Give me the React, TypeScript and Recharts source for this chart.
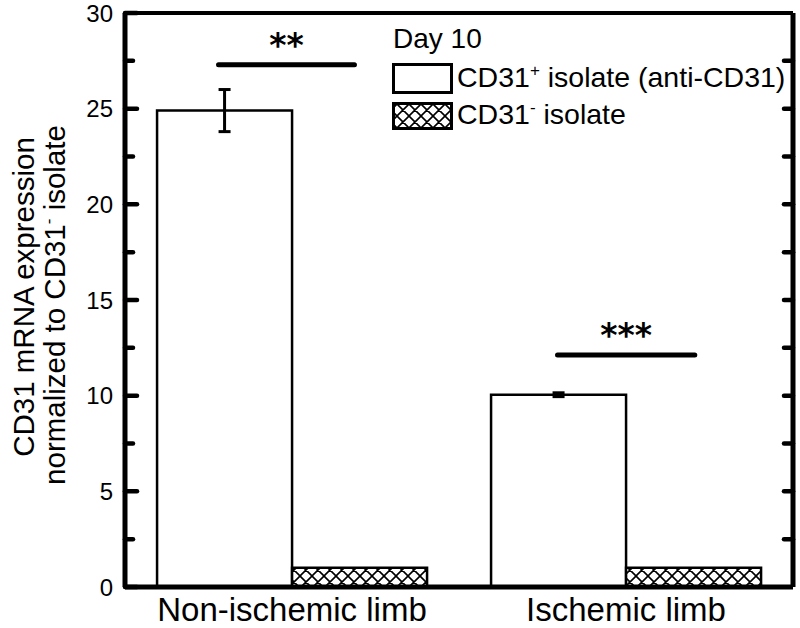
import React from 'react';
import { BarChart, Bar, XAxis, YAxis, ErrorBar, ReferenceLine, Legend } from 'recharts';

const categories = ['Non-ischemic limb', 'Ischemic limb'];
const cd31PosValues = [24.9, 10.05];
const cd31PosErrors = [1.1, 0.1];
const cd31NegValues = [1.0, 1.0];
const yTicks = [0, 2.5, 5, 7.5, 10, 12.5, 15, 17.5, 20, 22.5, 25, 27.5, 30];
const sigLabels = ['**', '***'];
const sigY = [27.3, 12.13];
// significance bar ends, as a fraction of the plot width
const sigXStart = [0.14, 0.6475];
const sigXEnd = [0.3435, 0.853];
const legendTitle = 'Day 10';
const seriesMain = ['CD31', 'CD31'];
const seriesSup = ['+', '-'];
const seriesRest = [' isolate (anti-CD31)', ' isolate'];

const data = categories.map((name, i) => ({
  name,
  pos: cd31PosValues[i],
  posErr: cd31PosErrors[i],
  neg: cd31NegValues[i],
}));

const FONT = '"Liberation Sans", Arial, sans-serif';
const CHART_W = 800;
const MARGIN_RIGHT = 6;
const RIGHT_AXIS_W = 1;
const PLOT_RIGHT = CHART_W - MARGIN_RIGHT - RIGHT_AXIS_W;

function LeftTick(props: any) {
  const { x, y, payload } = props;
  const v = payload.value;
  const major = v % 5 === 0;
  return (
    <g>
      <line x1={x} x2={x + (major ? 12 : 8)} y1={y} y2={y} stroke="#000" strokeWidth={4.5} strokeLinecap="round" />
      {v > 0 && v < 30 && (
        <line x1={PLOT_RIGHT - 9} x2={PLOT_RIGHT} y1={y} y2={y} stroke="#000" strokeWidth={4.5} strokeLinecap="round" />
      )}
      {major && (
        <text x={x - 12} y={y} dy="0.36em" textAnchor="end" fontSize={24} fill="#000" fontFamily={FONT}>
          {v}
        </text>
      )}
    </g>
  );
}

const YLabel = (props: any) => {
  const vb = props.viewBox;
  const cy = vb && typeof vb.y === 'number' ? vb.y + vb.height / 2 : 300;
  const y1 = cy - 3;
  const y2 = cy + 5;
  return (
    <g fontFamily={FONT} fontSize={29.5} fill="#000">
      <text x={34} y={y1} transform={`rotate(-90, 34, ${y1})`} textAnchor="middle">
        CD31 mRNA expression
      </text>
      <text x={65} y={y2} transform={`rotate(-90, 65, ${y2})`} textAnchor="middle">
        normalized to CD31<tspan dy={-11} fontSize={17}>-</tspan>
        <tspan dy={11}> isolate</tspan>
      </text>
    </g>
  );
};

const swatchFill = ['#fff', 'url(#xhatch)'];
const swatchY = [44.5, 83.5];
const swatchH = [28, 25];
const textY = [67, 104];

const LegendContent = (props: any) => {
  const payload = props.payload || [];
  return (
    <svg width={415} height={115} style={{ display: 'block', overflow: 'visible' }}>
      <text x={8} y={28} fontSize={28} fontFamily={FONT} fill="#000">
        {legendTitle}
      </text>
      {payload.map((entry: any, i: number) => (
        <g key={i}>
          <rect x={8.5} y={swatchY[i]} width={58} height={swatchH[i]} fill={swatchFill[i]} stroke="#000" strokeWidth={3} />
          <text x={72} y={textY[i]} fontSize={28.5} fontFamily={FONT} fill="#000">
            {seriesMain[i]}
            <tspan dy={-11} fontSize={17}>{seriesSup[i]}</tspan>
            <tspan dy={11}>{seriesRest[i]}</tspan>
          </text>
        </g>
      ))}
    </svg>
  );
};

export default function App() {
  return (
    <div style={{ position: 'absolute', left: 0, top: 0, width: 800, height: 628, background: '#fff' }}>
      <svg width={0} height={0} style={{ position: 'absolute' }}>
        <defs>
          <pattern id="xhatch" patternUnits="userSpaceOnUse" width={12} height={12}>
            <rect width={12} height={12} fill="#fff" />
            <path d="M-3,-3 L15,15 M15,-3 L-3,15 M-3,9 L3,15 M9,-3 L15,3 M3,-3 L-3,3 M15,9 L9,15" stroke="#000" strokeWidth={1.6} />
          </pattern>
        </defs>
      </svg>
      <BarChart
        width={CHART_W}
        height={628}
        data={data}
        margin={{ top: 12, right: MARGIN_RIGHT, bottom: 0, left: 0 }}
        barCategoryGap="9.6%"
        barGap={0}
        style={{ fontFamily: FONT }}
      >
        <XAxis
          xAxisId="cat"
          dataKey="name"
          height={41}
          tickSize={0}
          tickMargin={11}
          tickLine={false}
          interval={0}
          stroke="#000"
          strokeWidth={5}
          axisLine={{ stroke: '#000', strokeWidth: 5 }}
          tick={{ fill: '#000', fontSize: 33, fontFamily: FONT }}
        />
        <XAxis
          xAxisId="num"
          type="number"
          orientation="top"
          domain={[0, 1]}
          allowDataOverflow={true}
          height={1}
          tick={false}
          tickLine={false}
          stroke="#000"
          strokeWidth={4}
          axisLine={{ stroke: '#000', strokeWidth: 4 }}
        />
        <YAxis
          yAxisId="l"
          width={125}
          domain={[0, 30]}
          ticks={yTicks}
          interval={0}
          tickSize={0}
          tickMargin={0}
          tickLine={false}
          stroke="#000"
          strokeWidth={5}
          axisLine={{ stroke: '#000', strokeWidth: 5 }}
          tick={LeftTick}
          label={<YLabel />}
        />
        <YAxis
          yAxisId="r"
          orientation="right"
          width={RIGHT_AXIS_W}
          domain={[0, 30]}
          tick={false}
          tickLine={false}
          stroke="#000"
          strokeWidth={5}
          axisLine={{ stroke: '#000', strokeWidth: 5 }}
        />
        <Legend
          layout="vertical"
          align="center"
          verticalAlign="middle"
          content={<LegendContent />}
          wrapperStyle={{ left: 385, top: 20, width: 415, height: 115 }}
        />
        <Bar
          xAxisId="cat"
          yAxisId="l"
          dataKey="pos"
          name="CD31+ isolate (anti-CD31)"
          fill="#fff"
          stroke="#000"
          strokeWidth={2.5}
          isAnimationActive={false}
        >
          <ErrorBar dataKey="posErr" width={6} stroke="#000" strokeWidth={3} direction="y" />
        </Bar>
        <Bar
          xAxisId="cat"
          yAxisId="l"
          dataKey="neg"
          name="CD31- isolate"
          fill="url(#xhatch)"
          stroke="#000"
          strokeWidth={2.5}
          isAnimationActive={false}
        />
        {sigLabels.map((lab, i) => (
          <ReferenceLine
            key={lab}
            xAxisId="num"
            yAxisId="l"
            segment={[
              { x: sigXStart[i], y: sigY[i] },
              { x: sigXEnd[i], y: sigY[i] },
            ]}
            stroke="#000"
            strokeWidth={5}
            strokeLinecap="round"
            ifOverflow="visible"
            label={{
              value: lab,
              position: 'top',
              offset: 8,
              fill: '#000',
              fontSize: 33,
              fontWeight: 'bold',
              fontFamily: '"DejaVu Sans", sans-serif',
            }}
          />
        ))}
      </BarChart>
    </div>
  );
}
